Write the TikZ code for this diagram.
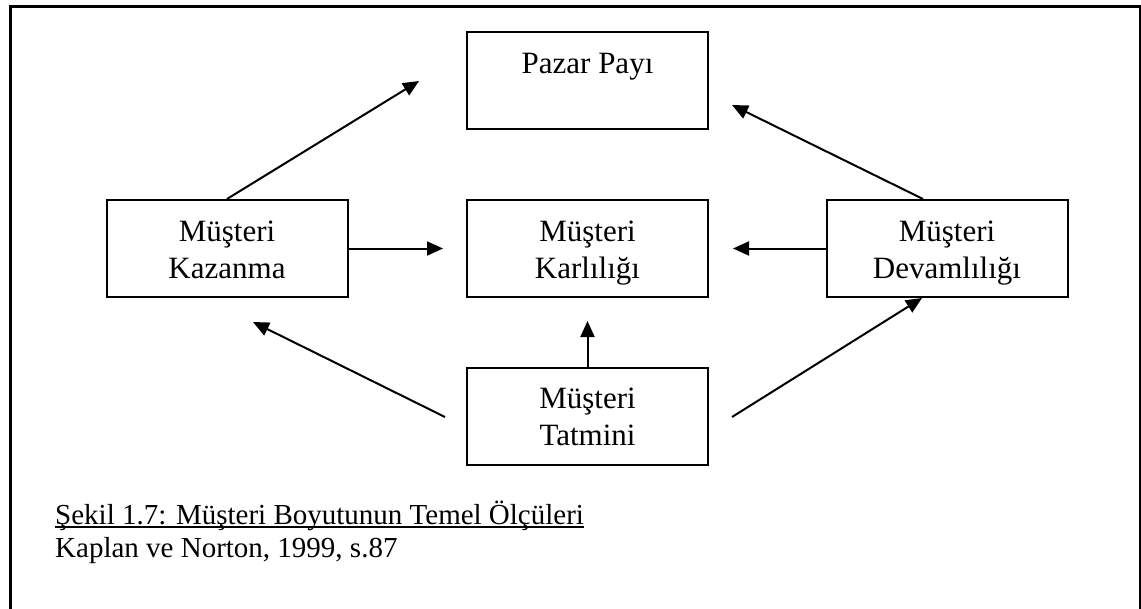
\documentclass[tikz,border=0pt]{standalone}
\usepackage{fontspec}
\setmainfont{Liberation Serif}
\usetikzlibrary{arrows.meta}
\begin{document}
\begin{tikzpicture}[x=1pt,y=-1pt,
  box/.style={draw,line width=2pt,minimum width=241pt,minimum height=97pt,inner sep=0pt},
  txt/.style={anchor=base,inner sep=0pt,font=\fontsize{31}{37}\selectfont},
  conn/.style={line width=2pt,-{Triangle[length=16pt,width=14pt]}},
  caption/.style={anchor=base west,inner sep=0pt,font=\fontsize{29}{34}\selectfont}]
\useasboundingbox (0,0) rectangle (1141,608);
% outer frame, open at the bottom of the page
\begin{scope}
  \clip (0,0) rectangle (1141,608);
  \draw[line width=3pt] (10,6) rectangle (1140,650);
\end{scope}

% measure boxes
\node[box] (pazar) at (587.5,80)    {};
\node[box] (kaz)   at (227,248.5)   {};
\node[box] (karl)  at (587.5,248.5) {};
\node[box] (dev)   at (947,248.5)   {};
\node[box] (tat)   at (587.5,416)   {};

% box labels, one node per line
\node[txt] (pazar1) at (587.5,73)  {Pazar Payı};
\node[txt] (kaz1)   at (227,241)   {Müşteri};
\node[txt] (kaz2)   at (227,278)   {Kazanma};
\node[txt] (karl1)  at (587.5,241) {Müşteri};
\node[txt] (karl2)  at (587.5,278) {Karlılığı};
\node[txt] (dev1)   at (947,241)   {Müşteri};
\node[txt] (dev2)   at (947,278)   {Devamlılığı};
\node[txt] (tat1)   at (587.5,408.5) {Müşteri};
\node[txt] (tat2)   at (587.5,445.5) {Tatmini};

% free ends of the connectors
\coordinate (kazTip)  at (419,81);
\coordinate (devTip)  at (732,105);
\coordinate (devTop)  at ([xshift=-24pt]dev.north);
\coordinate (devBot)  at ([xshift=-25pt]dev.south);
\coordinate (tatL)    at (445,417);
\coordinate (tatR)    at (732,417);
\coordinate (kazIn)   at (253,322);
\coordinate (karlL)   at (443,248.5);
\coordinate (karlR)   at (733,248.5);
\coordinate (karlB)   at (587.5,321);

% connectors
\draw[conn] (kaz.north) -- (kazTip);
\draw[conn] (devTop) -- (devTip);
\draw[conn] (kaz.east) -- (karlL);
\draw[conn] (dev.west) -- (karlR);
\draw[conn] (tat.north) -- (karlB);
\draw[conn] (tatL) -- (kazIn);
\draw[conn] (tatR) -- (devBot);

% caption (underlined just below its baseline) and source
\node[caption] (cap) at (55,524) {Şekil 1.7: Müşteri Boyutunun Temel Ölçüleri};
\draw[line width=1.5pt] ([yshift=-3pt]cap.base west) -- ([yshift=-3pt]cap.base east);
\node[caption] (src) at (55,557) {Kaplan ve Norton, 1999, s.87};
\end{tikzpicture}
\end{document}
